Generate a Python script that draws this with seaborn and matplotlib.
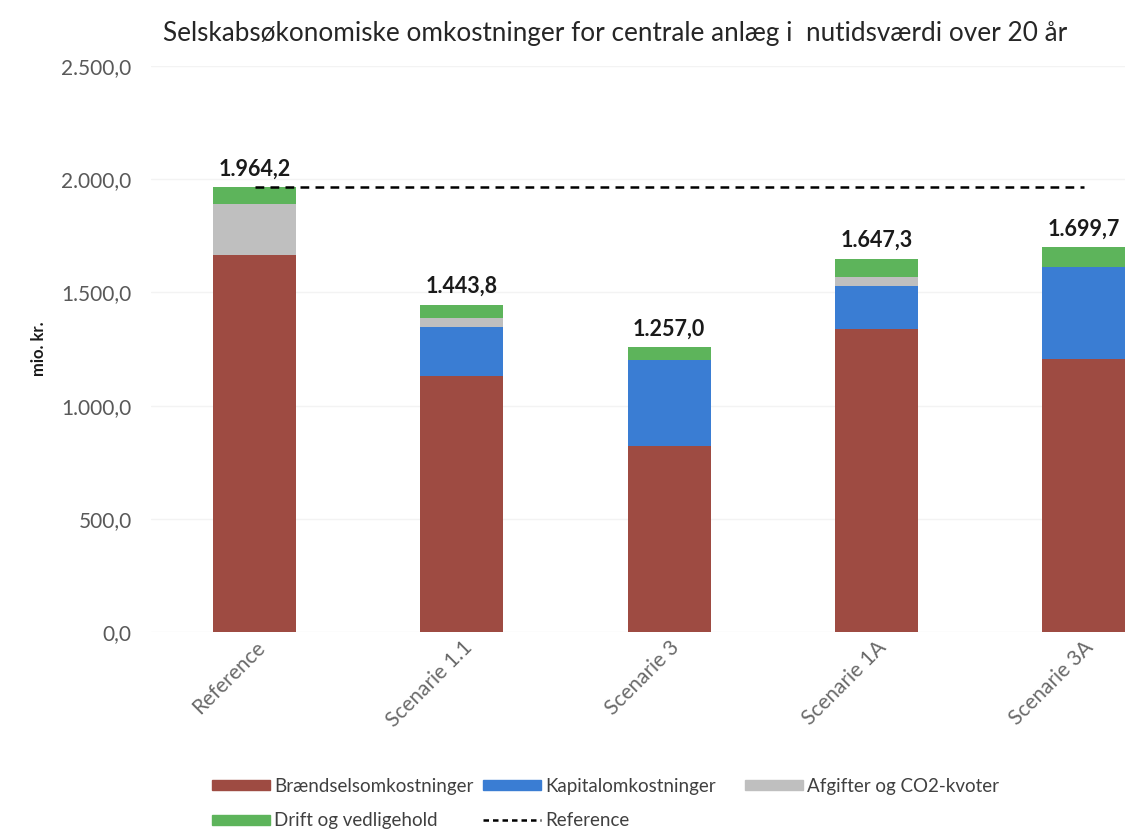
import numpy as np
import pandas as pd
import matplotlib
matplotlib.use("Agg")
import matplotlib.pyplot as plt
from matplotlib.patches import Patch
from matplotlib.lines import Line2D
from matplotlib.ticker import FuncFormatter
import seaborn as sns

categories = ["Reference", "Scenarie 1.1", "Scenarie 3", "Scenarie 1A", "Scenarie 3A"]
braendsel = [1665.0, 1130.0, 820.0, 1340.0, 1205.0]
kapital = [0.0, 218.0, 380.0, 190.0, 405.0]
afgifter = [225.0, 40.0, 0.0, 40.0, 0.0]
drift = [74.2, 55.8, 57.0, 77.3, 89.7]
totals = [1964.2, 1443.8, 1257.0, 1647.3, 1699.7]
reference_line = [1964.2, 1964.2, 1964.2, 1964.2, 1964.2]

series_names = ["Brændselsomkostninger", "Kapitalomkostninger", "Afgifter og CO2-kvoter", "Drift og vedligehold"]
colors = ["#9E4B42", "#3A7DD3", "#BFBFBF", "#5DB45B"]

sns.set_theme(style="white")
plt.rcParams["font.family"] = ["Lato", "DejaVu Sans"]

fig = plt.figure(figsize=(11.25, 8.34), dpi=100)
ax = fig.add_axes([151 / 1125, 202 / 834, (1125 - 151) / 1125, (632 - 66) / 834])

layers = [braendsel, kapital, afgifter, drift]
cum = np.cumsum(np.array(layers), axis=0)
for i in reversed(range(len(layers))):
    sns.barplot(x=categories, y=cum[i], color=colors[i], saturation=1, width=0.4,
                ax=ax, linewidth=0, zorder=2)

dash = (0, (3.5, 2.5))
sns.lineplot(x=np.arange(len(categories)), y=reference_line, color="black",
             linestyle=dash, linewidth=1.8, ax=ax, zorder=3)

def fmt_dk(v):
    s = f"{v:,.1f}"
    return s.replace(",", "X").replace(".", ",").replace("X", ".")

for i, t in enumerate(totals):
    ax.text(i, t + 35, fmt_dk(t), ha="center", va="bottom", fontsize=15.5,
            fontweight="bold", color="#1a1a1a")

ax.set_ylim(0, 2500)
ax.set_xlim(-0.5, 4.2)
ax.set_yticks([0, 500, 1000, 1500, 2000, 2500])
ax.yaxis.set_major_formatter(FuncFormatter(lambda v, p: fmt_dk(v)))
ax.tick_params(axis="y", labelsize=15, labelcolor="#595959", length=0, pad=14)
ax.tick_params(axis="x", labelsize=15, labelcolor="#6a6a6a", length=0, pad=4)
for lab in ax.get_xticklabels():
    lab.set_rotation(45)
    lab.set_ha("right")
    lab.set_rotation_mode("anchor")
ax.grid(axis="y", color="#F3F3F3", linewidth=1)
ax.set_axisbelow(True)
for s in ax.spines.values():
    s.set_visible(False)
ax.set_xlabel("")
ax.set_ylabel("mio. kr.", fontsize=12, fontweight="bold", color="#1a1a1a", labelpad=10)

fig.text(0.547, 0.96, "Selskabsøkonomiske omkostninger for centrale anlæg i  nutidsværdi over 20 år",
         ha="center", va="center", fontsize=18.8, color="#262626")

leg_kw = dict(loc="upper left", ncol=1, frameon=False, fontsize=13.5, labelcolor="#404040",
              handlelength=3.1, handleheight=0.45, handletextpad=0.2, labelspacing=0.92,
              borderpad=0, borderaxespad=0)
top = 1 - 778 / 834
fig.legend([Patch(color=colors[0]), Patch(color=colors[3])],
           [series_names[0], series_names[3]],
           bbox_to_anchor=(212 / 1125, top), **leg_kw)
fig.legend([Patch(color=colors[1]),
            Line2D([0], [0], color="black", linestyle=(0, (2.2, 1.6)), linewidth=1.8)],
           [series_names[1], "Reference"],
           bbox_to_anchor=(483 / 1125, top), **leg_kw)
fig.legend([Patch(color=colors[2])], [series_names[2]],
           bbox_to_anchor=(745 / 1125, top), **leg_kw)

fig.savefig("out.png", dpi=100)
